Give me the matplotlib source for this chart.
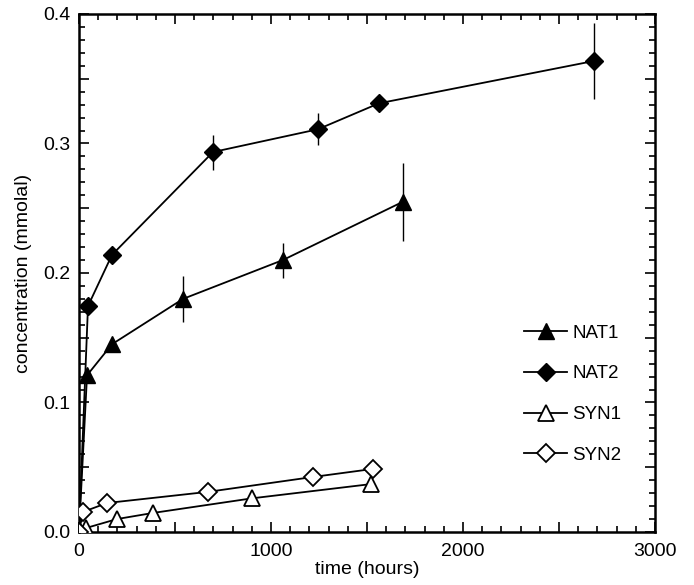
import matplotlib
matplotlib.use('Agg')
import matplotlib.pyplot as plt
from matplotlib.ticker import MultipleLocator, FuncFormatter

plt.rcParams['font.family'] = ['Liberation Sans', 'DejaVu Sans']

# NAT1 - filled triangles
nat1_t = [0, 42, 172, 542, 1062, 1687]
nat1_c = [0.0, 0.121, 0.145, 0.180, 0.210, 0.255]
nat1_err = [0, 0, 0, 0.018, 0.0135, 0.030]

# NAT2 - filled diamonds
nat2_t = [0, 47, 172, 698, 1245, 1562, 2682]
nat2_c = [0.0, 0.1745, 0.214, 0.2934, 0.311, 0.331, 0.3637]
nat2_err = [0, 0, 0, 0.0135, 0.0124, 0.006, 0.029]

# SYN1 - open triangles
syn1_t = [0, 35, 198, 385, 901, 1521]
syn1_c = [0.0, 0.003, 0.010, 0.0147, 0.026, 0.037]

# SYN2 - open diamonds
syn2_t = [0, 21, 146, 672, 1219, 1531]
syn2_c = [0.0, 0.0155, 0.0224, 0.031, 0.0425, 0.0487]

fs = 14

fig = plt.figure(figsize=(6.94, 5.85), dpi=100)
ax = fig.add_axes([0.1138, 0.0906, 0.8300, 0.8855])

lw = 1.3
# error bars
ax.errorbar(nat1_t, nat1_c, yerr=nat1_err, fmt='none', ecolor='black', elinewidth=1.0, capsize=0)
ax.errorbar(nat2_t, nat2_c, yerr=nat2_err, fmt='none', ecolor='black', elinewidth=1.0, capsize=0)

ax.plot(nat1_t, nat1_c, color='black', lw=lw, marker='^', ms=12,
        mfc='black', mec='black', label='NAT1')
ax.plot(nat2_t, nat2_c, color='black', lw=lw, marker='D', ms=9,
        mfc='black', mec='black', label='NAT2')
ax.plot(syn1_t, syn1_c, color='black', lw=lw, marker='^', ms=12,
        mfc='white', mec='black', mew=1.3, label='SYN1', zorder=3)
ax.plot(syn2_t, syn2_c, color='black', lw=lw, marker='D', ms=9,
        mfc='white', mec='black', mew=1.3, label='SYN2', zorder=3)

ax.set_xlim(0, 3000)
ax.set_ylim(0, 0.4)

ax.xaxis.set_major_locator(MultipleLocator(500))
ax.xaxis.set_minor_locator(MultipleLocator(100))
ax.yaxis.set_major_locator(MultipleLocator(0.05))
ax.yaxis.set_minor_locator(MultipleLocator(0.01))

def xfmt(v, pos):
    if abs(v % 1000) < 1e-6:
        return '%d' % v
    return ''

def yfmt(v, pos):
    if abs(round(v * 10) - v * 10) < 1e-6:
        return '%.1f' % v
    return ''

ax.xaxis.set_major_formatter(FuncFormatter(xfmt))
ax.yaxis.set_major_formatter(FuncFormatter(yfmt))

ax.tick_params(which='both', direction='in', top=True, right=True, width=1.2,
               labelsize=fs)
ax.tick_params(which='major', length=7)
ax.tick_params(which='minor', length=4)
ax.tick_params(axis='x', pad=8)
ax.tick_params(axis='y', pad=6)

for s in ax.spines.values():
    s.set_linewidth(1.8)

ax.set_xlabel('time (hours)', fontsize=fs, labelpad=1)
ax.set_ylabel('concentration (mmolal)', fontsize=fs, labelpad=8)

ax.legend(loc='center left', bbox_to_anchor=(0.7726, 0.266), frameon=False,
          fontsize=13.5, handlelength=2.3, handletextpad=0.28, labelspacing=1.26,
          borderpad=0, borderaxespad=0, numpoints=1)

fig.savefig('out.png', dpi=100)
